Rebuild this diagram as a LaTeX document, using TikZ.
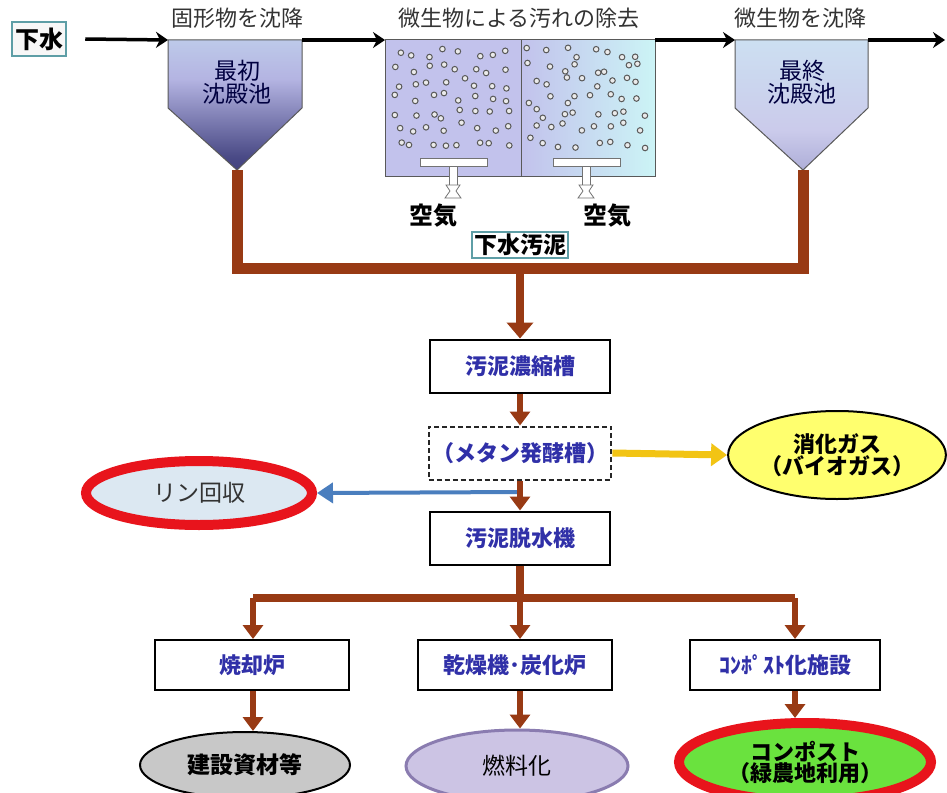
\documentclass[tikz,border=0pt]{standalone}
\usepackage{fontspec}
\setmainfont{Noto Sans CJK JP}
\usetikzlibrary{arrows.meta,shapes.geometric}
\definecolor{sludge}{HTML}{983A14}
\definecolor{boxtxt}{HTML}{3030A8}
\definecolor{teal}{HTML}{5E9EA6}
\definecolor{navy}{HTML}{1C1C5E}
\definecolor{lav}{HTML}{B4B4E2}
\definecolor{lcyan}{HTML}{CDEEF6}
\definecolor{gasy}{HTML}{F2C414}
\definecolor{gasfill}{HTML}{FFFF6E}
\definecolor{pblue}{HTML}{4A7EBE}
\definecolor{pfill}{HTML}{DCE8F2}
\definecolor{grayfill}{HTML}{C8C8C8}
\definecolor{fuelfill}{HTML}{CCC4E4}
\definecolor{fuelline}{HTML}{8A7CB0}
\definecolor{compfill}{HTML}{6AE23E}
\definecolor{ringred}{HTML}{E8141C}
\definecolor{tankL}{HTML}{C2C2EC}
\definecolor{tankR}{HTML}{CCF4F6}
\pgfdeclareverticalshading{settlerA}{100bp}{color(0bp)=(navy); color(30bp)=(navy!70!lav); color(60bp)=(lav); color(100bp)=(lcyan)}
\pgfdeclareverticalshading{settlerB}{100bp}{color(0bp)=(navy); color(12bp)=(lav!80!navy); color(40bp)=(lav!70!white); color(100bp)=(lcyan)}
\tikzset{
  lbl/.style={font=\fontsize{22}{26}\selectfont, text=black!80},
  stxt/.style={font=\fontsize{23}{27}\selectfont, text=black!75!blue, align=center},
  procbox/.style={draw=black, line width=2pt, fill=white, minimum width=180pt, minimum height=53pt, font=\bfseries\fontsize{22}{26}\selectfont, text=boxtxt},
  tealbox/.style={draw=teal, line width=2.5pt, fill=white, font=\bfseries\fontsize{23}{26}\selectfont, inner sep=2pt},
  flow/.style={line width=3.5pt, -{Stealth[length=12pt,width=16pt]}},
  sludgeline/.style={draw=sludge, line width=11pt},
  bigarrow/.style={draw=sludge, line width=8pt, -{Triangle[length=16pt,width=26pt]}},
  sarrow/.style={draw=sludge, line width=6pt, -{Triangle[length=14pt,width=20pt]}},
  bubble/.style={draw=black!65, fill=black!8, line width=1pt},
  diffuser/.style={draw=black!55, fill=white, line width=0.8pt},
  airlbl/.style={font=\bfseries\fontsize{24}{27}\selectfont},
  ell/.style={ellipse, draw, line width=2pt, font=\fontsize{23}{27}\selectfont, align=center, inner sep=0pt}
}
\begin{document}
\begin{tikzpicture}[x=1pt,y=-1pt]
\useasboundingbox (0,0) rectangle (947,792);
\fill[white] (0,0) rectangle (947,792);

% inlet
\node[tealbox, fill=black!3, minimum width=54pt, minimum height=34pt, font=\bfseries\fontsize{24}{26}\selectfont] (gesui) at (39,39) {下水};

% primary settler
\shade[shading=settlerA, draw=black!65, line width=1pt] (168,40) -- (302,40) -- (302,108) -- (237,170) -- (168,108) -- cycle;
\coordinate (p1in) at (168,40);
\coordinate (p1out) at (302,40);
\coordinate (p1tip) at (237,170);
\node[stxt] (p1txt) at (237,82) {最初\\[-4pt]沈殿池};
\node[lbl] (p1lbl) at (237,18) {固形物を沈降};

% aeration tank
\fill[tankL] (385,40) rectangle (521,176);
\shade[left color=tankL, right color=tankR] (521,40) rectangle (655,176);
\draw[black!65, line width=1pt] (385,40) rectangle (655,176);
\draw[black!65, line width=1pt] (521,40) -- (521,176);
\coordinate (atin) at (385,40);
\coordinate (atout) at (655,40);
\node[lbl] (atlbl) at (519,18) {微生物による汚れの除去};
\pgfmathsetseed{5}
\foreach \c in {0,...,7} {
  \foreach \r in {0,...,6} {
    \pgfmathsetmacro\bx{398+\c*15.5+6*rand}
    \pgfmathsetmacro\by{53+\r*15+5.5*rand}
    \draw[bubble] (\bx,\by) circle[radius=2.8pt];
    \pgfmathsetmacro\cx{532+\c*15.5+6*rand}
    \pgfmathsetmacro\cy{53+\r*15+5.5*rand}
    \draw[bubble] (\cx,\cy) circle[radius=2.8pt];
  }
}
\foreach \sx/\bl/\br in {453/420/487, 586/553/620} {
  \draw[diffuser] (\bl,158) rectangle (\br,166);
  \draw[diffuser] (\sx-4,166) rectangle (\sx+4,185);
  \draw[diffuser] (\sx-7,185) -- (\sx+7,185) -- (\sx+3,191) -- (\sx+8,198) -- (\sx-8,198) -- (\sx-3,191) -- cycle;
}
\node[airlbl] (air1) at (433,216) {空気};
\node[airlbl] (air2) at (607,216) {空気};

% final settler
\shade[shading=settlerB, draw=black!65, line width=1pt] (735,40) -- (868,40) -- (868,108) -- (803,170) -- (735,108) -- cycle;
\coordinate (p2in) at (735,40);
\coordinate (p2out) at (868,40);
\coordinate (p2tip) at (803,170);
\node[stxt] (p2txt) at (802,82) {最終\\[-4pt]沈殿池};
\node[lbl] (p2lbl) at (800,18) {微生物を沈降};
\coordinate (outlet) at (945,40);

% water flow
\draw[flow] (gesui.east) ++(18,0) -- (p1in);
\draw[flow] (p1out) -- (atin);
\draw[flow] (atout) -- (p2in);
\draw[flow] (p2out) -- (outlet);

% sludge collection
\coordinate (jl) at (237,268);
\coordinate (jr) at (803,268);
\coordinate (jc) at (520,268);
\draw[sludgeline, line join=miter] (p1tip) -- (jl) -- (jr) -- (p2tip);
\node[tealbox] (osui) at (520,245) {下水汚泥};

% processing chain
\node[procbox] (noshuku) at (520,366) {汚泥濃縮槽};
\node[procbox, draw=black!85, dashed, line width=2pt, dash pattern=on 5pt off 3pt] (metan) at (520,453) {（メタン発酵槽）};
\node[procbox] (dassui) at (520,538) {汚泥脱水機};
\draw[bigarrow] (jc) -- (noshuku.north);
\draw[sarrow] (noshuku.south) -- (metan.north);

\node[ell, fill=gasfill, minimum width=214pt, minimum height=88pt, font=\bfseries\fontsize{22}{26}\selectfont] (gas) at (837,455) {消化ガス\\[-4pt]（バイオガス）};
\draw[gasy, line width=7pt, -{Triangle[length=16pt,width=22pt]}] (metan.east) -- (gas.west);

\node[ell, draw=ringred, line width=10pt, fill=pfill, minimum width=226pt, minimum height=64pt, text=black!80] (rin) at (199,493) {リン回収};
\coordinate (pbr) at (520,492);
\draw[pblue, line width=4pt, -{Triangle[length=16pt,width=20pt]}] (pbr) -- (rin.east);
\draw[sarrow] (metan.south) -- (dassui.north);

% branch
\coordinate (bc) at (520,598);
\coordinate (bl) at (253,598);
\coordinate (br) at (795,598);
\draw[sludge, line width=8pt] (dassui.south) -- (bc);
\draw[sludge, line width=8pt] (bl) -- (br);

\node[procbox, minimum width=194pt, minimum height=50pt] (shokyaku) at (252,665) {焼却炉};
\node[procbox, minimum width=194pt, minimum height=50pt] (kanso) at (515,665) {乾燥機･炭化炉};
\node[procbox, minimum width=190pt, minimum height=50pt] (compf) at (785,665) {ｺﾝﾎﾟｽﾄ化施設};
\draw[sarrow] (bl) -- (bl |- shokyaku.north);
\draw[sarrow] (bc) -- (bc |- kanso.north);
\draw[sarrow] (br) -- (br |- compf.north);

\node[ell, fill=grayfill, minimum width=210pt, minimum height=66pt, font=\bfseries\fontsize{23}{27}\selectfont] (kensetsu) at (245,765) {建設資材等};
\node[ell, draw=fuelline, line width=3pt, fill=fuelfill, minimum width=222pt, minimum height=72pt] (nenryo) at (517,766) {燃料化};
\node[ell, draw=ringred, line width=10pt, fill=compfill, minimum width=252pt, minimum height=78pt, font=\bfseries\fontsize{22}{26}\selectfont] (compost) at (805,762) {コンポスト\\[-5pt]（緑農地利用）};
\draw[sarrow] (bl |- shokyaku.south) -- (bl |- kensetsu.north);
\draw[sarrow] (bc |- kanso.south) -- (bc |- nenryo.north);
\draw[sarrow] (br |- compf.south) -- (br |- compost.north);
\end{tikzpicture}
\end{document}
